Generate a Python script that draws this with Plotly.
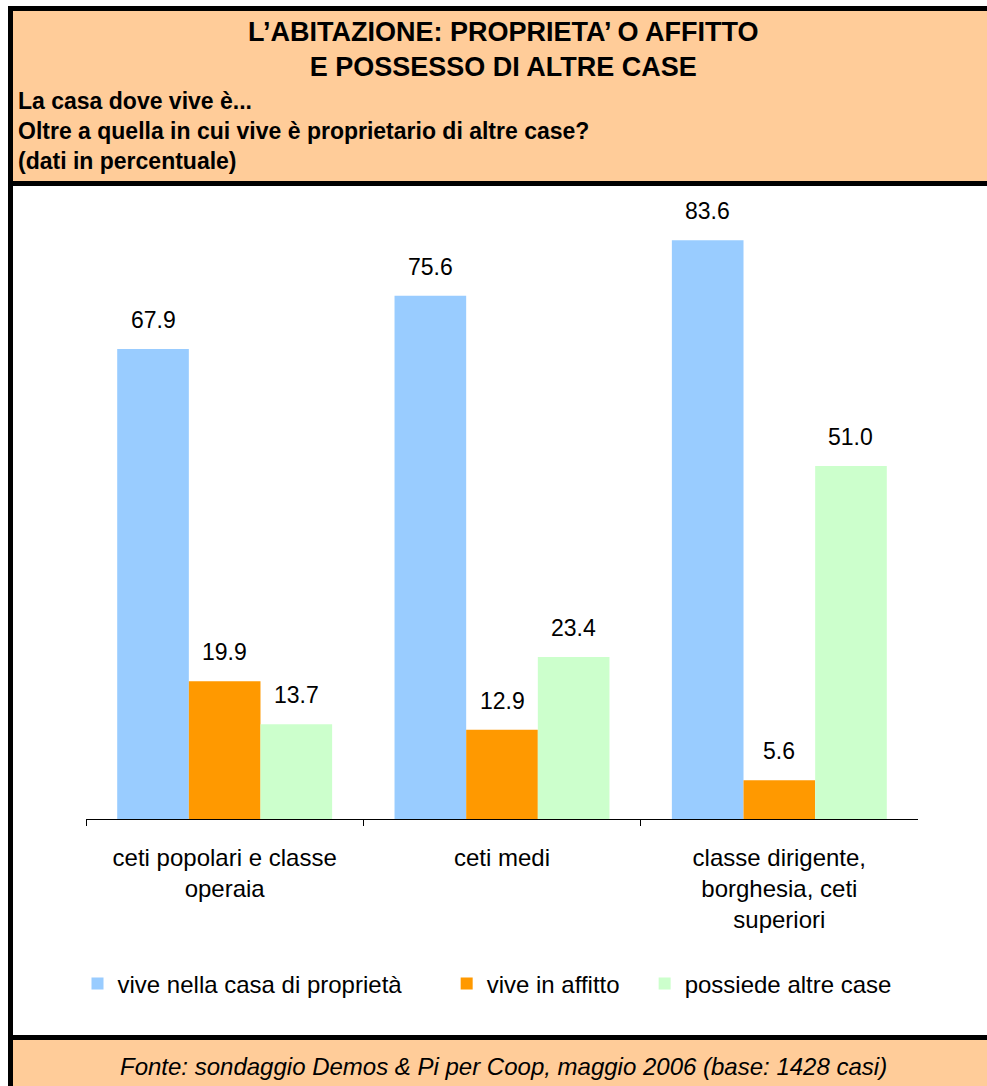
import plotly.graph_objects as go

# ---- data ----
categories = ["ceti popolari e classe<br>operaia", "ceti medi",
              "classe dirigente,<br>borghesia, ceti<br>superiori"]
series_names = ["vive nella casa di proprietà", "vive in affitto", "possiede altre case"]
proprieta = [67.9, 75.6, 83.6]
affitto = [19.9, 12.9, 5.6]
altre_case = [13.7, 23.4, 51.0]
series_values = [proprieta, affitto, altre_case]
series_colors = ["#99CCFF", "#FF9900", "#CCFFCC"]

title_lines = "L’ABITAZIONE: PROPRIETA’ O AFFITTO<br>E POSSESSO DI ALTRE CASE"
subtitle_lines = ["La casa dove vive è...",
                  "Oltre a quella in cui vive è proprietario di altre case?",
                  "(dati in percentuale)"]
source_text = "Fonte: sondaggio Demos & Pi per Coop, maggio 2006 (base: 1428 casi)"

# ---- layout geometry (pixels) ----
W, H = 987, 1086
PLOT_L, PLOT_R = 86, 918
PLOT_T, PLOT_B = 196, 819
Y_MAX = 90
BARGAP = 0.225
FONT = "Liberation Sans, Arial, sans-serif"
NBSP = "\u00a0"
legend_pad = [6, 3, 0]


def px(x):
    return x / W


def py(y):
    return 1 - y / H


fig = go.Figure()
for name, vals, col, pad in zip(series_names, series_values, series_colors, legend_pad):
    fig.add_trace(go.Bar(x=categories, y=vals, name=name + NBSP * pad,
                         marker=dict(color=col, line=dict(width=0))))

# data labels above bars
cat_w = (PLOT_R - PLOT_L) / len(categories)
bar_w = cat_w * (1 - BARGAP) / len(series_values)
annotations = []
for j, vals in enumerate(series_values):
    for c, v in zip(categories, vals):
        annotations.append(dict(
            x=c, y=v, xref="x", yref="y", text=f"{v:.1f}", showarrow=False,
            xshift=(j - (len(series_values) - 1) / 2) * bar_w, yshift=29,
            yanchor="middle", font=dict(family=FONT, size=23, color="black")))

# title / subtitle / source
annotations.append(dict(x=px(503), y=py(50), xref="paper", yref="paper",
                        text=f"<b>{title_lines}</b>", showarrow=False,
                        xanchor="center", yanchor="middle",
                        font=dict(family=FONT, size=27, color="black")))
for i, line in enumerate(subtitle_lines):
    annotations.append(dict(x=px(16), y=py(101 + 30 * i), xref="paper", yref="paper",
                            text=f"<b>{line}</b>", showarrow=False,
                            xanchor="left", yanchor="middle",
                            font=dict(family=FONT, size=23, color="black")))
annotations.append(dict(x=px(503), y=py(1066), xref="paper", yref="paper",
                        text=f"<i>{source_text}</i>", showarrow=False,
                        xanchor="center", yanchor="middle",
                        font=dict(family=FONT, size=24, color="black")))

shapes = [
    # header box
    dict(type="rect", xref="paper", yref="paper", x0=px(10.5), x1=1.02,
         y0=py(183.5), y1=py(8.5), fillcolor="#FFCC99",
         line=dict(color="black", width=5), layer="below"),
    # left border of chart area
    dict(type="line", xref="paper", yref="paper", x0=px(10.5), x1=px(10.5),
         y0=py(186), y1=py(1037), line=dict(color="black", width=5)),
    # footer box
    dict(type="rect", xref="paper", yref="paper", x0=px(10.5), x1=1.02,
         y0=-0.02, y1=py(1037.5), fillcolor="#FFCC99",
         line=dict(color="black", width=5), layer="below"),
]

fig.update_layout(
    width=W, height=H,
    margin=dict(l=0, r=0, t=0, b=0, pad=0),
    paper_bgcolor="white", plot_bgcolor="rgba(0,0,0,0)",
    barmode="group", bargap=BARGAP, bargroupgap=0,
    font=dict(family=FONT, size=22, color="black"),
    showlegend=True,
    legend=dict(orientation="h", x=px(487), xanchor="center",
                y=py(984), yanchor="middle",
                font=dict(family=FONT, size=24, color="black"),
                bgcolor="rgba(0,0,0,0)", itemclick=False),
    xaxis=dict(domain=[px(PLOT_L), px(PLOT_R)], showline=True, linecolor="black",
               linewidth=1, ticks="outside", tickson="boundaries", ticklen=6,
               tickcolor="black", tickwidth=1, showgrid=False, zeroline=False,
               tickfont=dict(family=FONT, size=24, color="black"),
               ticklabelstandoff=17, automargin=False, fixedrange=True),
    yaxis=dict(domain=[py(PLOT_B), py(PLOT_T)], range=[0, Y_MAX], visible=False,
               showgrid=False, zeroline=False, automargin=False, fixedrange=True),
    annotations=annotations,
    shapes=shapes,
)

fig.write_html("out.html", config={"displayModeBar": False},
               post_script="document.body.style.margin='0';"
                           "document.body.style.overflow='hidden';")
